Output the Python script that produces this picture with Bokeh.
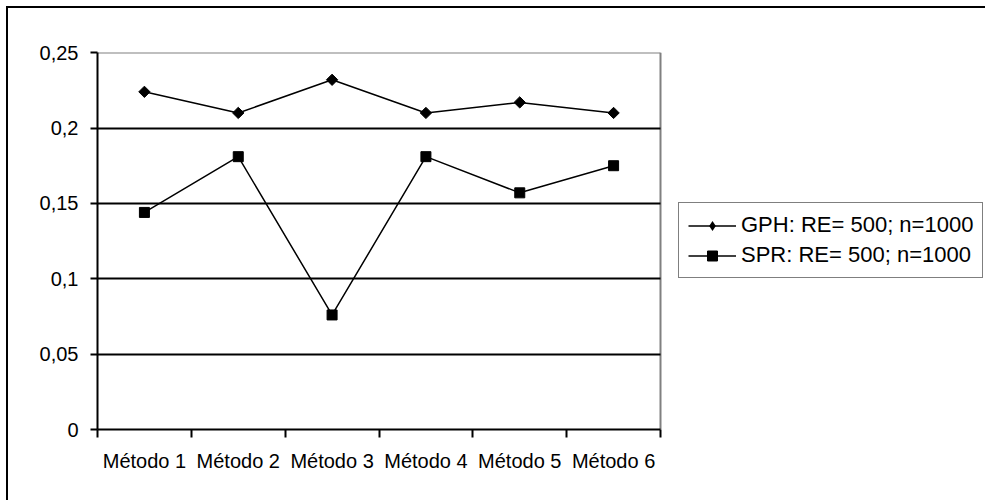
import numpy as np
from bokeh.plotting import figure
from bokeh.models import FixedTicker, Legend, LegendItem, Grid
from bokeh.embed import file_html
from bokeh.resources import INLINE

categories = ["Método 1", "Método 2", "Método 3", "Método 4", "Método 5", "Método 6"]
gph = [0.224, 0.210, 0.232, 0.210, 0.217, 0.210]
spr = [0.144, 0.181, 0.076, 0.181, 0.157, 0.175]
series_names = ["GPH: RE= 500; n=1000", "SPR: RE= 500; n=1000"]
y_ticks = [0.0, 0.05, 0.1, 0.15, 0.2, 0.25]
y_tick_labels = ["0", "0,05", "0,1", "0,15", "0,2", "0,25"]

FONT = "Liberation Sans"
W, H = 979, 494
# canvas pixel layout: frame spans the data area plus the legend area on the right
FRAME_L, FRAME_T, FRAME_B = 89, 44, 421
DATA_R, FRAME_R = 652, 976

n = len(categories)
x = [i + 0.5 for i in range(n)]
boundaries = list(range(n + 1))
x_end = n * (FRAME_R - FRAME_L) / (DATA_R - FRAME_L)
y_top = y_ticks[-1]

p = figure(width=W, height=H, x_range=(0, x_end), y_range=(0, y_top * 1.0004),
           output_backend="svg", toolbar_location=None,
           min_border_left=FRAME_L, min_border_top=FRAME_T,
           min_border_right=W - FRAME_R, min_border_bottom=H - FRAME_B)
p.styles = {"border-top": "2px solid #000", "border-left": "2px solid #000",
            "margin-left": "6px", "margin-top": "6px"}
p.outline_line_color = None

# horizontal grid lines (black) limited to the data area
p.ygrid.ticker = FixedTicker(ticks=y_ticks[1:-1], minor_ticks=[])
p.ygrid.grid_line_color = "black"
p.ygrid.grid_line_width = 2
p.ygrid.cross_bounds = (0, n)

# gray right and top edge of the plot area
p.xgrid.ticker = FixedTicker(ticks=[n], minor_ticks=[])
p.xgrid.grid_line_color = "#808080"
p.xgrid.grid_line_width = 2
p.xgrid.cross_bounds = (0, y_top)
top_edge = Grid(dimension=1, ticker=FixedTicker(ticks=[y_top], minor_ticks=[]),
                grid_line_color="#808080", grid_line_width=2, cross_bounds=(0, n))
p.add_layout(top_edge)

# x axis
p.xaxis.bounds = (0, n)
p.xaxis.ticker = FixedTicker(ticks=x, minor_ticks=boundaries)
p.xaxis.major_label_overrides = {xi: c for xi, c in zip(x, categories)}
p.xaxis.major_tick_out = 0
p.xaxis.major_tick_in = 0
p.xaxis.minor_tick_out = 8
p.xaxis.minor_tick_in = 0
p.xaxis.minor_tick_line_color = "black"
p.xaxis.minor_tick_line_width = 2
p.xaxis.major_label_standoff = 12

# y axis
p.yaxis.bounds = (0, y_top)
p.yaxis.ticker = FixedTicker(ticks=y_ticks, minor_ticks=[])
p.yaxis.major_label_overrides = {t: l for t, l in zip(y_ticks, y_tick_labels)}
p.yaxis.major_tick_out = 7
p.yaxis.major_tick_in = 0
p.yaxis.major_tick_line_width = 2
p.yaxis.major_tick_line_color = "black"
p.yaxis.minor_tick_line_color = None
p.yaxis.major_label_standoff = 12

for ax in (p.xaxis[0], p.yaxis[0]):
    ax.axis_line_color = "black"
    ax.axis_line_width = 2
    ax.major_label_text_font = FONT
    ax.major_label_text_font_size = "20px"
    ax.major_label_text_color = "black"

# data
r1l = p.line(x, gph, line_color="black", line_width=1.5)
r1m = p.scatter(x, gph, marker="square", angle=np.pi / 4, size=8,
                fill_color="black", line_color="black")
r2l = p.line(x, spr, line_color="black", line_width=1.5)
r2m = p.scatter(x, spr, marker="square", size=10,
                fill_color="black", line_color="black")
# diamond swatch used by the legend (zero size, so it adds nothing to the plot)
r1sw = p.scatter(x, gph, marker="diamond", size=0, fill_color="black",
                 line_color="black", line_width=0)

legend = Legend(items=[LegendItem(label=series_names[0], renderers=[r1l, r1sw]),
                       LegendItem(label=series_names[1], renderers=[r2l, r2m])],
                location=(678 - 97, 429 - 278))
legend.border_line_color = "black"
legend.border_line_width = 1
legend.background_fill_color = "white"
legend.background_fill_alpha = 1
legend.label_text_font = FONT
legend.label_text_font_size = "22px"
legend.label_text_color = "black"
legend.glyph_width = 48
legend.glyph_height = 25
legend.label_height = 25
legend.label_standoff = 5
legend.spacing = 4
legend.padding = 9
legend.margin = 0
p.add_layout(legend, "center")

open("out.html", "w").write(file_html(p, INLINE))
